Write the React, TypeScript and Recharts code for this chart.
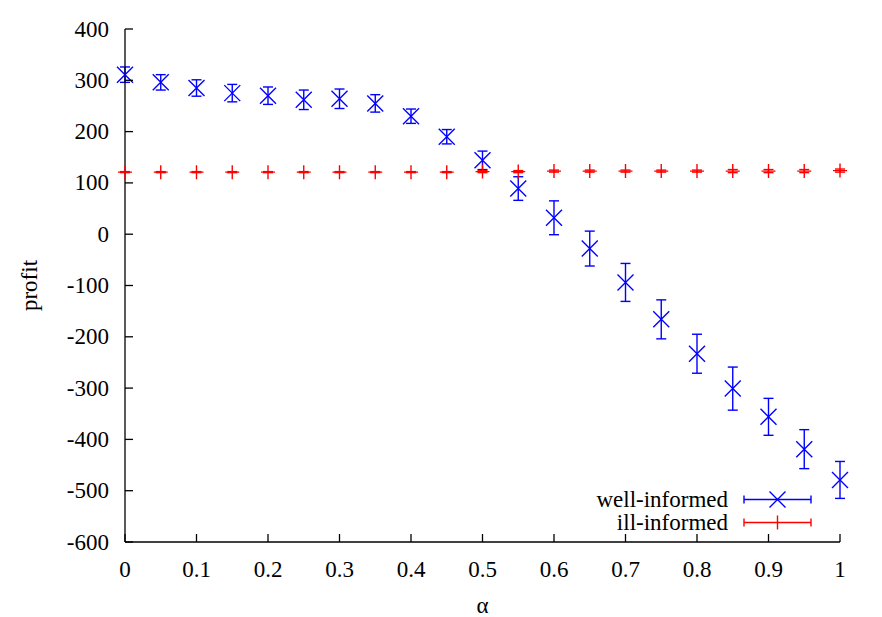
import React from 'react'
import { ScatterChart, Scatter, XAxis, YAxis, ErrorBar, Legend, Label } from 'recharts'

const alpha = [0, 0.05, 0.1, 0.15, 0.2, 0.25, 0.3, 0.35, 0.4, 0.45, 0.5, 0.55, 0.6, 0.65, 0.7, 0.75, 0.8, 0.85, 0.9, 0.95, 1]
const wellMean = [311, 296, 285, 275, 270, 262, 264, 255, 230, 190, 144, 89, 32, -28, -94, -166, -233, -301, -356, -419, -479]
const wellErr = [15, 15, 16, 17, 17, 19, 19, 17, 14, 14, 18, 23, 33, 34, 37, 38, 38, 42, 36, 38, 36]
const illMean = [121, 121, 121, 121, 121, 121, 121, 121, 121, 121, 122, 122, 123, 123, 123, 123, 123, 123, 123, 123, 124]
const illErr = [1, 1, 1, 1, 1, 1, 1, 1, 1, 1, 2, 2, 2, 2, 2, 2, 2, 3, 3, 3, 3]

const xTicks = [0, 0.1, 0.2, 0.3, 0.4, 0.5, 0.6, 0.7, 0.8, 0.9, 1]
const yTicks = [-600, -500, -400, -300, -200, -100, 0, 100, 200, 300, 400]

const BLUE = '#0000ff'
const RED = '#ff0000'
const FONT = '"Liberation Serif", "Times New Roman", serif'
const FS = 23
const TICK = 8

const wellData = alpha.map((a, i) => ({ x: a, y: wellMean[i], err: wellErr[i] }))
const illData = alpha.map((a, i) => ({ x: a, y: illMean[i], err: illErr[i] }))

const CrossX = ({ cx, cy }: any) => (
  <path d={`M${cx - 8},${cy - 8}L${cx + 8},${cy + 8}M${cx - 8},${cy + 8}L${cx + 8},${cy - 8}`} stroke={BLUE} strokeWidth={1.4} fill="none" />
)
const Plus = ({ cx, cy }: any) => (
  <path d={`M${cx - 7},${cy}L${cx + 7},${cy}M${cx},${cy - 7}L${cx},${cy + 7}`} stroke={RED} strokeWidth={1.4} fill="none" />
)

const BottomTick = ({ x, y, payload }: any) => (
  <g>
    <line x1={x} y1={y} x2={x} y2={y - TICK} stroke="#000" strokeWidth={1.3} />
    <text x={x} y={y + 35} textAnchor="middle" fontFamily={FONT} fontSize={FS} fill="#000">{String(payload.value)}</text>
  </g>
)
const TopTick = ({ x, y }: any) => <line x1={x} y1={y} x2={x} y2={y + TICK} stroke="#000" strokeWidth={1.3} />
const LeftTick = ({ x, y, payload }: any) => (
  <g>
    <line x1={x} y1={y} x2={x + TICK} y2={y} stroke="#000" strokeWidth={1.3} />
    <text x={x - 16} y={y} textAnchor="end" dominantBaseline="central" fontFamily={FONT} fontSize={FS} fill="#000">{String(payload.value)}</text>
  </g>
)
const RightTick = ({ x, y }: any) => <line x1={x} y1={y} x2={x - TICK} y2={y} stroke="#000" strokeWidth={1.3} />

const legendItems = [
  { name: 'well-informed', color: BLUE, marker: 'x' },
  { name: 'ill-informed', color: RED, marker: '+' },
]

const LegendBox = () => (
  <div style={{ fontFamily: FONT, fontSize: FS }}>
    {legendItems.map((it) => (
      <div key={it.name} style={{ display: 'flex', alignItems: 'center', height: 23 }}>
        <span style={{ width: 168, textAlign: 'right', lineHeight: '23px', whiteSpace: 'nowrap' }}>{it.name}</span>
        <svg width={84} height={23} style={{ marginLeft: 15 }}>
          <g stroke={it.color} strokeWidth={1.4} fill="none">
            <path d="M1,11.5L68,11.5M1,7.5L1,15.5M68,7.5L68,15.5" />
            {it.marker === 'x' ? (
              <path d="M26.5,3.5L42.5,19.5M26.5,19.5L42.5,3.5" />
            ) : (
              <path d="M34.5,4.5L34.5,18.5" />
            )}
          </g>
        </svg>
      </div>
    ))}
  </div>
)

const YLabel = ({ viewBox }: any) => {
  const cy = viewBox.y + viewBox.height / 2
  return (
    <text x={29} y={cy} transform={`rotate(-90, 29, ${cy})`} textAnchor="middle" dominantBaseline="central" fontFamily={FONT} fontSize={FS} fill="#000">profit</text>
  )
}

export default function App() {
  return (
    <div style={{ width: 882, height: 617, background: '#fff' }}>
      <style>{'body{margin:0}'}</style>
      <ScatterChart width={882} height={617} margin={{ top: 29, right: 42, bottom: 0, left: 0 }}>
        <XAxis
          type="number"
          dataKey="x"
          domain={[0, 1]}
          ticks={xTicks}
          height={75}
          tickLine={false}
          tickSize={0}
          tickMargin={0}
          tick={<BottomTick />}
          axisLine={{ stroke: '#000', strokeWidth: 1.3 }}
          interval={0}
        >
          <Label value="α" position="insideBottom" offset={4} style={{ fontFamily: FONT, fontSize: FS, fill: '#000' }} />
        </XAxis>
        <XAxis
          xAxisId="top"
          orientation="top"
          type="number"
          domain={[0, 1]}
          ticks={xTicks}
          height={0}
          tickLine={false}
          tickSize={0}
          tickMargin={0}
          tick={<TopTick />}
          axisLine={{ stroke: '#000', strokeWidth: 1.3 }}
          interval={0}
        />
        <YAxis
          type="number"
          dataKey="y"
          domain={[-600, 400]}
          ticks={yTicks}
          width={125}
          tickLine={false}
          tickSize={0}
          tickMargin={0}
          tick={<LeftTick />}
          axisLine={{ stroke: '#000', strokeWidth: 1.3 }}
          interval={0}
        >
          <Label content={<YLabel />} />
        </YAxis>
        <YAxis
          yAxisId="right"
          orientation="right"
          type="number"
          domain={[-600, 400]}
          ticks={yTicks}
          width={0}
          tickLine={false}
          tickSize={0}
          tickMargin={0}
          tick={<RightTick />}
          axisLine={{ stroke: '#000', strokeWidth: 1.3 }}
          interval={0}
        />
        <Legend
          layout="vertical"
          align="center"
          verticalAlign="middle"
          content={<LegendBox />}
          wrapperStyle={{ left: 560, top: 488, width: 280, height: 46 }}
        />
        <Scatter name="well-informed" data={wellData} shape={<CrossX />} isAnimationActive={false}>
          <ErrorBar dataKey="err" direction="y" width={5} stroke={BLUE} strokeWidth={1.4} />
        </Scatter>
        <Scatter name="ill-informed" data={illData} shape={<Plus />} isAnimationActive={false}>
          <ErrorBar dataKey="err" direction="y" width={5} stroke={RED} strokeWidth={1.4} />
        </Scatter>
      </ScatterChart>
    </div>
  )
}
